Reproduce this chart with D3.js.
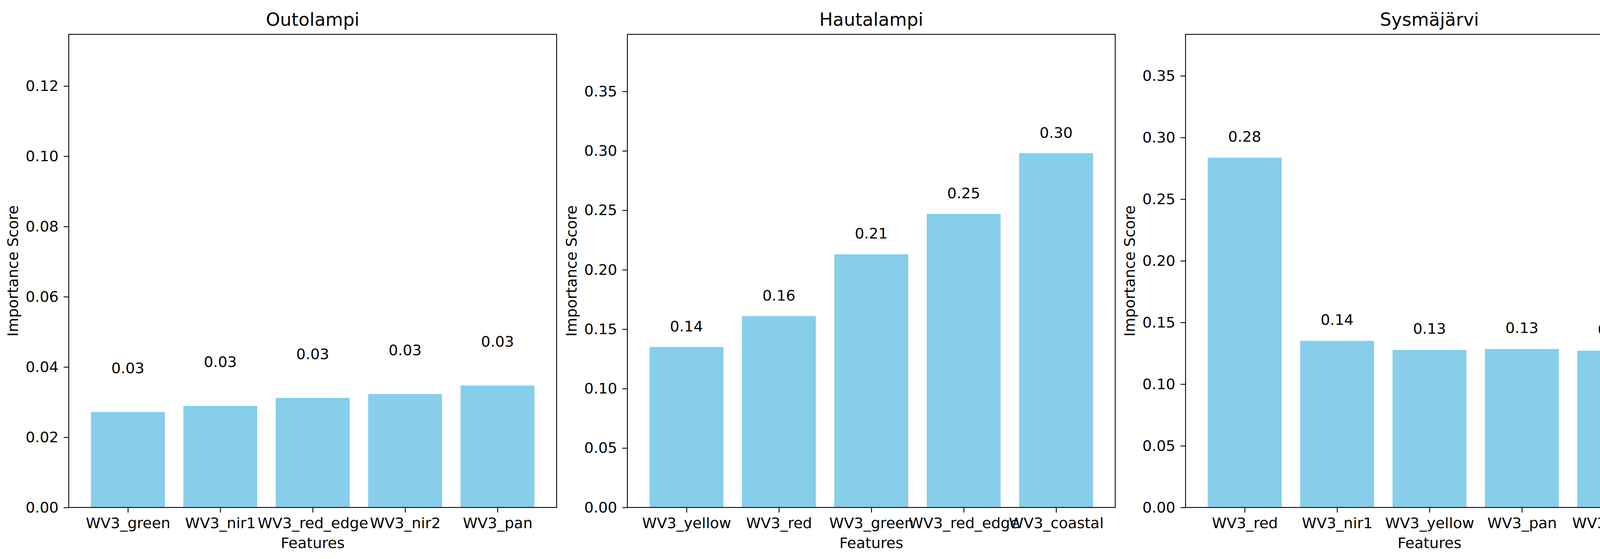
<!DOCTYPE html>
<html>
<head>
<meta charset="utf-8">
<script src="https://d3js.org/d3.v7.min.js"></script>
<style>
  body { margin: 0; background: #fff; }
  svg text { font-family: "DejaVu Sans", sans-serif; fill: #000; }
</style>
</head>
<body>
<svg id="chart" width="4312" height="1432"></svg>
<script>
// data
var titles = ["Outolampi", "Hautalampi", "Sysmäjärvi"];
var features1 = ["WV3_green", "WV3_nir1", "WV3_red_edge", "WV3_nir2", "WV3_pan"];
var scores1 = [0.0272, 0.0289, 0.0312, 0.0323, 0.0347];
var features2 = ["WV3_yellow", "WV3_red", "WV3_green", "WV3_red_edge", "WV3_coastal"];
var scores2 = [0.135, 0.161, 0.213, 0.247, 0.298];
var features3 = ["WV3_red", "WV3_nir1", "WV3_yellow", "WV3_pan", "WV3_green"];
var scores3 = [0.2836, 0.1351, 0.1277, 0.1285, 0.1271];
var ticks1 = [0, 0.02, 0.04, 0.06, 0.08, 0.10, 0.12];
var ticks2 = [0, 0.05, 0.10, 0.15, 0.20, 0.25, 0.30, 0.35];
var ticks3 = [0, 0.05, 0.10, 0.15, 0.20, 0.25, 0.30, 0.35];

var panels = [
  {title: titles[0], f: features1, v: scores1, ticks: ticks1},
  {title: titles[1], f: features2, v: scores2, ticks: ticks2},
  {title: titles[2], f: features3, v: scores3, ticks: ticks3}
];

var svg = d3.select("#chart");
var plotTop = 88, plotBottom = 1300, w = 1249, lefts = [176, 1606, 3035];
var fs = 38;

panels.forEach(function(p, k) {
  var g = svg.append("g").attr("transform", "translate(" + lefts[k] + "," + plotTop + ")");
  var h = plotBottom - plotTop;
  var x = d3.scaleLinear().domain([-0.64, p.v.length - 1 + 0.64]).range([0, w]);
  var y = d3.scaleLinear().domain([0, d3.max(p.v) + 0.1]).range([h, 0]);

  g.selectAll("rect.bar").data(p.v).enter().append("rect")
    .attr("x", function(d, i) { return x(i - 0.4); })
    .attr("width", x(0.4) - x(-0.4))
    .attr("y", function(d) { return y(d); })
    .attr("height", function(d) { return h - y(d); })
    .attr("fill", "#87ceeb");

  g.selectAll("text.val").data(p.v).enter().append("text")
    .attr("x", function(d, i) { return x(i); })
    .attr("y", function(d) { return y(d + 0.01); })
    .attr("dy", "-0.25em")
    .attr("text-anchor", "middle")
    .attr("font-size", fs)
    .text(function(d) { return d.toFixed(2); });

  var xa = g.append("g").attr("transform", "translate(0," + h + ")")
    .call(d3.axisBottom(x).tickValues(d3.range(p.f.length)).tickFormat(function(i) { return p.f[i]; })
      .tickSize(13).tickPadding(13));
  var ya = g.append("g")
    .call(d3.axisLeft(y).tickValues(p.ticks).tickFormat(d3.format(".2f")).tickSize(13).tickPadding(13));
  [xa, ya].forEach(function(a) {
    a.select(".domain").remove();
    a.selectAll("line").attr("stroke", "#000").attr("stroke-width", 2.2);
    a.selectAll("text").attr("font-size", fs).attr("font-family", "DejaVu Sans");
  });

  g.append("rect").attr("width", w).attr("height", h)
    .attr("fill", "none").attr("stroke", "#000").attr("stroke-width", 2.2);

  g.append("text").attr("x", w / 2).attr("y", -22).attr("text-anchor", "middle")
    .attr("font-size", 46).text(p.title);
  g.append("text").attr("x", w / 2).attr("y", h + 104).attr("text-anchor", "middle")
    .attr("font-size", fs).text("Features");
  g.append("text").attr("transform", "translate(-130," + (h / 2) + ") rotate(-90)")
    .attr("text-anchor", "middle").attr("font-size", fs).text("Importance Score");
});
</script>
</body>
</html>
